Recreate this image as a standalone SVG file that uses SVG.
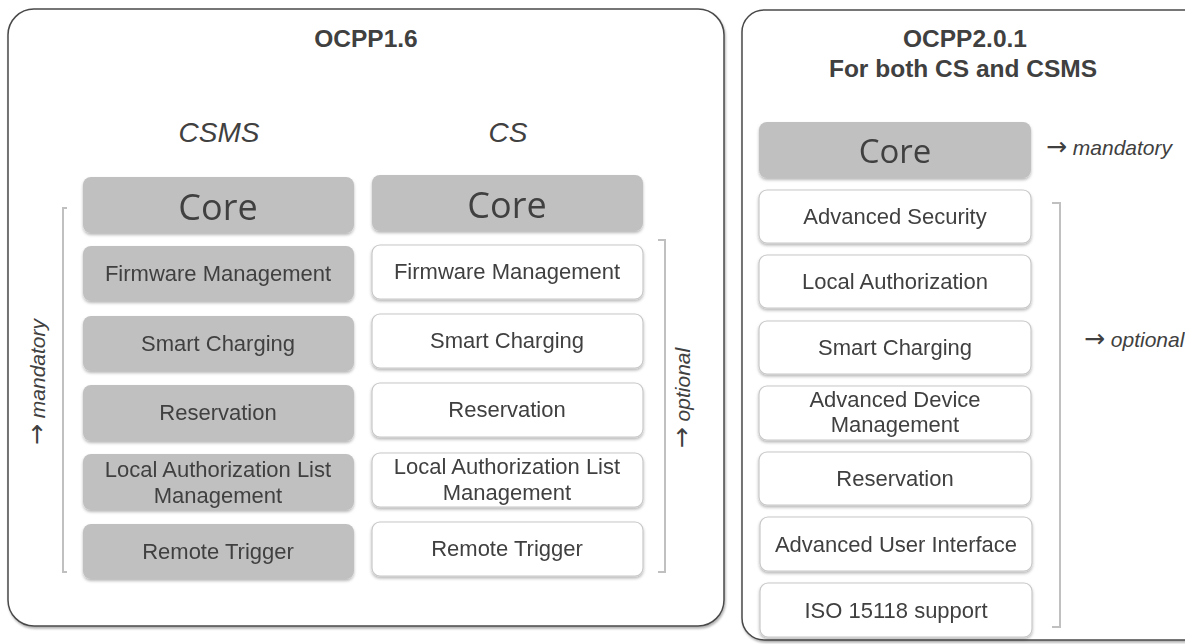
<svg xmlns="http://www.w3.org/2000/svg" width="1185" height="644" viewBox="0 0 1185 644">
  <defs>
    <filter id="soft" x="-10%" y="-20%" width="120%" height="150%">
      <feDropShadow dx="0" dy="2" stdDeviation="1.4" flood-color="#000" flood-opacity="0.28"/>
    </filter>
    <filter id="panelShadow" x="-5%" y="-5%" width="110%" height="110%">
      <feDropShadow dx="1" dy="2" stdDeviation="1.2" flood-color="#000" flood-opacity="0.3"/>
    </filter>
  </defs>
  <style>
    .panel { fill: #ffffff; stroke: #4a4a4a; stroke-width: 1.5; }
    .gray { fill: #c0c0c0; stroke: none; }
    .white { fill: #ffffff; stroke: #c8c8c8; stroke-width: 1.2; }
    .title { font-family: "Liberation Sans", Arial, sans-serif; font-weight: bold; font-size: 24.5px; fill: #404040; text-anchor: middle; }
    .col { font-family: "Liberation Sans", Arial, sans-serif; font-style: italic; font-size: 28px; fill: #404040; text-anchor: middle; }
    .lbl { font-family: "Liberation Sans", Arial, sans-serif; font-size: 22px; fill: #404040; text-anchor: middle; }
    .core { font-family: "Open Sans", "Liberation Sans", sans-serif; fill: #404040; text-anchor: middle; }
    .note { font-family: "Liberation Sans", Arial, sans-serif; font-style: italic; font-size: 21px; fill: #404040; }
    .arrow { font-family: "DejaVu Sans", sans-serif; font-style: normal; font-size: 25px; }
    .bracket { fill: none; stroke: #c0c0c0; stroke-width: 2; }
  </style>

  <!-- OCPP 1.6 panel -->
  <g id="panel-ocpp16">
    <rect class="panel" x="8" y="9" width="716" height="617" rx="26" filter="url(#panelShadow)"/>
    <text class="title" x="366" y="47">OCPP1.6</text>
    <text class="col" x="219" y="142">CSMS</text>
    <text class="col" x="508" y="142">CS</text>
  </g>

  <!-- OCPP 2.0.1 panel -->
  <g id="panel-ocpp201">
    <rect class="panel" x="742" y="10" width="470" height="630" rx="22" filter="url(#panelShadow)"/>
    <text class="title" x="965" y="47">OCPP2.0.1</text>
    <text class="title" x="963" y="77">For both CS and CSMS</text>
  </g>

  <!-- CSMS column (all mandatory) -->
  <g id="csms-core" filter="url(#soft)">
    <rect class="gray" x="83" y="177" width="271" height="56" rx="8"/>
    <text class="core" x="218" y="220" font-size="36">Core</text>
  </g>
  <g id="csms-firmware" filter="url(#soft)">
    <rect class="gray" x="83" y="246" width="271" height="55" rx="8"/>
    <text class="lbl" x="218" y="281">Firmware Management</text>
  </g>
  <g id="csms-smart" filter="url(#soft)">
    <rect class="gray" x="83" y="316" width="271" height="55" rx="8"/>
    <text class="lbl" x="218" y="351">Smart Charging</text>
  </g>
  <g id="csms-reservation" filter="url(#soft)">
    <rect class="gray" x="83" y="385" width="271" height="56" rx="8"/>
    <text class="lbl" x="218" y="420">Reservation</text>
  </g>
  <g id="csms-localauth" filter="url(#soft)">
    <rect class="gray" x="83" y="454" width="271" height="56" rx="8"/>
    <text class="lbl" x="218" y="477">Local Authorization List</text>
    <text class="lbl" x="218" y="503">Management</text>
  </g>
  <g id="csms-remote" filter="url(#soft)">
    <rect class="gray" x="83" y="524" width="271" height="55" rx="8"/>
    <text class="lbl" x="218" y="559">Remote Trigger</text>
  </g>

  <!-- CS column (core mandatory, rest optional) -->
  <g id="cs-core" filter="url(#soft)">
    <rect class="gray" x="372" y="175" width="271" height="56" rx="8"/>
    <text class="core" x="507" y="218" font-size="36">Core</text>
  </g>
  <g id="cs-firmware" filter="url(#soft)">
    <rect class="white" x="372" y="245" width="271" height="54" rx="8"/>
    <text class="lbl" x="507" y="279">Firmware Management</text>
  </g>
  <g id="cs-smart" filter="url(#soft)">
    <rect class="white" x="372" y="314" width="271" height="54" rx="8"/>
    <text class="lbl" x="507" y="348">Smart Charging</text>
  </g>
  <g id="cs-reservation" filter="url(#soft)">
    <rect class="white" x="372" y="383" width="271" height="54" rx="8"/>
    <text class="lbl" x="507" y="417">Reservation</text>
  </g>
  <g id="cs-localauth" filter="url(#soft)">
    <rect class="white" x="372" y="453" width="271" height="54" rx="8"/>
    <text class="lbl" x="507" y="474">Local Authorization List</text>
    <text class="lbl" x="507" y="500">Management</text>
  </g>
  <g id="cs-remote" filter="url(#soft)">
    <rect class="white" x="372" y="522" width="271" height="54" rx="8"/>
    <text class="lbl" x="507" y="556">Remote Trigger</text>
  </g>

  <!-- OCPP 2.0.1 column -->
  <g id="v2-core" filter="url(#soft)">
    <rect class="gray" x="759" y="122" width="272" height="56" rx="8"/>
    <text class="core" x="895" y="163" font-size="33">Core</text>
  </g>
  <g id="v2-security" filter="url(#soft)">
    <rect class="white" x="759" y="190" width="272" height="53" rx="8"/>
    <text class="lbl" x="895" y="224">Advanced Security</text>
  </g>
  <g id="v2-localauth" filter="url(#soft)">
    <rect class="white" x="759" y="255" width="272" height="53" rx="8"/>
    <text class="lbl" x="895" y="289">Local Authorization</text>
  </g>
  <g id="v2-smart" filter="url(#soft)">
    <rect class="white" x="759" y="321" width="272" height="53" rx="8"/>
    <text class="lbl" x="895" y="355">Smart Charging</text>
  </g>
  <g id="v2-device" filter="url(#soft)">
    <rect class="white" x="759" y="386" width="272" height="54" rx="8"/>
    <text class="lbl" x="895" y="407">Advanced Device</text>
    <text class="lbl" x="895" y="432">Management</text>
  </g>
  <g id="v2-reservation" filter="url(#soft)">
    <rect class="white" x="759" y="452" width="272" height="53" rx="8"/>
    <text class="lbl" x="895" y="486">Reservation</text>
  </g>
  <g id="v2-ui" filter="url(#soft)">
    <rect class="white" x="760" y="517" width="272" height="54" rx="8"/>
    <text class="lbl" x="896" y="552">Advanced User Interface</text>
  </g>
  <g id="v2-iso" filter="url(#soft)">
    <rect class="white" x="760" y="583" width="272" height="54" rx="8"/>
    <text class="lbl" x="896" y="618">ISO 15118 support</text>
  </g>

  <!-- scope brackets and their notes -->
  <g id="connectors">
    <path class="bracket" d="M67,208 H63 V572 H67"/>
    <path class="bracket" d="M658,240 H665 V572 H658"/>
    <path class="bracket" d="M1052,203 H1060 V627 H1052"/>
  </g>
  <g id="notes">
    <text class="note" transform="translate(45,382) rotate(-90)" text-anchor="middle"><tspan class="arrow">→</tspan> mandatory</text>
    <text class="note" transform="translate(690,398) rotate(-90)" text-anchor="middle"><tspan class="arrow">→</tspan> optional</text>
    <text class="note" x="1046" y="155"><tspan class="arrow">→</tspan> mandatory</text>
    <text class="note" x="1084" y="347"><tspan class="arrow">→</tspan> optional</text>
  </g>
</svg>
